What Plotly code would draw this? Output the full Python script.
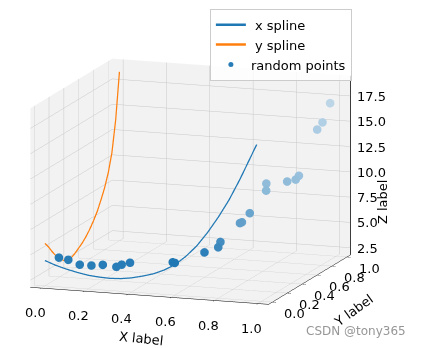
import plotly.graph_objects as go

# ---- data ----
spline_x = [0.00, 0.05, 0.10, 0.15, 0.20, 0.25, 0.30, 0.35, 0.40, 0.45, 0.50,
            0.55, 0.60, 0.65, 0.70, 0.75, 0.80, 0.85, 0.90, 0.95, 1.00]
x_spline_z = [4.3, 3.9, 3.6, 3.35, 3.15, 3.05, 3.0, 3.05, 3.2, 3.45, 3.75,
              4.2, 4.8, 5.7, 6.8, 8.2, 9.8, 11.6, 13.7, 16.0, 18.3]

spline_y = [0.00, 0.05, 0.10, 0.15, 0.20, 0.25, 0.30, 0.35, 0.40, 0.45, 0.50,
            0.55, 0.60, 0.65, 0.70, 0.75, 0.80, 0.85, 0.90, 0.95, 1.00]
y_spline_z = [6.0, 5.4, 4.7, 4.1, 3.6, 3.2, 3.0, 3.0, 3.2, 3.5, 3.8,
              4.2, 4.7, 5.3, 6.0, 6.9, 7.9, 9.2, 11.0, 14.0, 18.5]

pts_x = [0.057, 0.097, 0.143, 0.19, 0.239, 0.295, 0.316, 0.351, 0.538, 0.544,
         0.65, 0.686, 0.686, 0.728, 0.73, 0.756, 0.78, 0.774, 0.86, 0.889,
         0.897, 0.947, 0.961, 0.979]
pts_y = [0.02, 0.03, 0.05, 0.07, 0.08, 0.10, 0.11, 0.12, 0.15, 0.16,
         0.25, 0.33, 0.36, 0.50, 0.52, 0.55, 0.70, 0.72, 0.75, 0.78,
         0.80, 0.90, 0.93, 0.98]
pts_z = [4.6, 4.4, 3.9, 3.8, 3.9, 3.7, 3.9, 4.1, 4.3, 4.2,
         5.0, 5.2, 5.6, 6.9, 6.9, 7.7, 9.3, 9.9, 10.1, 10.2,
         10.5, 14.7, 15.3, 17.0]

x_ticks = [0.0, 0.2, 0.4, 0.6, 0.8, 1.0]
y_ticks = [0.0, 0.2, 0.4, 0.6, 0.8, 1.0]
z_ticks = [2.5, 5.0, 7.5, 10.0, 12.5, 15.0, 17.5]

X_RANGE = [-0.05, 1.05]
Y_RANGE = [-0.05, 1.05]
Z_RANGE = [1.8, 19.5]

BLUE = (31, 119, 180)
ORANGE = "#ff7f0e"
FONT = "DejaVu Sans"

# depth shading like matplotlib (nearer = darker)
depth = [0.94 * yy - 0.34 * xx for xx, yy in zip(pts_x, pts_y)]
dmin, dmax = min(depth), max(depth)
colors = []
for d in depth:
    a = 1 - 0.7 * (d - dmin) / (dmax - dmin)
    r, g, b = [round(255 * (1 - a) + c * a) for c in BLUE]
    colors.append(f"rgb({r},{g},{b})")

fig = go.Figure()
fig.add_trace(go.Scatter3d(
    x=spline_x, y=[0.0] * len(spline_x), z=x_spline_z, mode="lines",
    name=" x spline", line=dict(color="#1f77b4", width=2.5)))
fig.add_trace(go.Scatter3d(
    x=[0.0] * len(spline_y), y=spline_y, z=y_spline_z, mode="lines",
    name=" y spline", line=dict(color=ORANGE, width=2.5)))
fig.add_trace(go.Scatter3d(
    x=pts_x, y=pts_y, z=pts_z, mode="markers", name="random points",
    marker=dict(size=5, color=colors, line=dict(width=0))))
# z axis line on the right back edge (matplotlib style)
fig.add_trace(go.Scatter3d(
    x=[X_RANGE[1], X_RANGE[1]], y=[Y_RANGE[1], Y_RANGE[1]], z=Z_RANGE,
    mode="lines", line=dict(color="black", width=1.5), showlegend=False,
    hoverinfo="skip"))

axis_common = dict(
    showbackground=True, backgroundcolor="rgb(242,242,242)",
    gridcolor="rgb(200,200,200)", gridwidth=1,
    showline=True, linecolor="black", linewidth=1,
    zeroline=False, showspikes=False, ticks="outside", ticklen=4,
    tickcolor="black", showticklabels=False, title=dict(text=""),
)

tick_font = dict(family=FONT, size=13, color="black")
label_font = dict(family=FONT, size=13, color="black")
ann = []
for t in x_ticks:
    ann.append(dict(x=t, y=Y_RANGE[0], z=Z_RANGE[0], text=f"{t:.1f}",
                    showarrow=False, xanchor="center", yanchor="middle",
                    yshift=-24, xshift=-6, font=tick_font))
for t in y_ticks:
    ann.append(dict(x=X_RANGE[1], y=t, z=Z_RANGE[0], text=f"{t:.1f}",
                    showarrow=False, xanchor="left", yanchor="middle",
                    xshift=10, yshift=-11, font=tick_font))
for t in z_ticks:
    ann.append(dict(x=X_RANGE[1], y=Y_RANGE[1], z=t, text=f"{t:.1f}",
                    showarrow=False, xanchor="left", yanchor="middle",
                    xshift=5, font=tick_font))
ann.append(dict(x=0.5, y=Y_RANGE[0], z=Z_RANGE[0], text="X label",
                showarrow=False, xanchor="center", yanchor="middle",
                yshift=-42, xshift=-8, textangle=6, font=label_font))
ann.append(dict(x=X_RANGE[1], y=0.5, z=Z_RANGE[0], text="Y label",
                showarrow=False, xanchor="center", yanchor="middle",
                xshift=44, yshift=-30, textangle=-36, font=label_font))
ann.append(dict(x=X_RANGE[1], y=Y_RANGE[1], z=(Z_RANGE[0] + Z_RANGE[1]) / 2,
                text="Z label", showarrow=False, xanchor="center",
                yanchor="middle", xshift=32, yshift=-36, textangle=-90,
                font=label_font))

fig.update_layout(
    width=424, height=348,
    margin=dict(l=0, r=0, t=0, b=0),
    paper_bgcolor="white",
    font=dict(family=FONT, size=12, color="black"),
    showlegend=True,
    legend=dict(x=0.495, y=0.975, xanchor="left", yanchor="top",
                bordercolor="rgb(204,204,204)", borderwidth=1,
                bgcolor="rgba(255,255,255,0.8)",
                font=dict(family=FONT, size=13)),
    scene=dict(
        domain=dict(x=[0.019, 0.879], y=[0.027, 0.927]),
        xaxis=dict(axis_common, range=X_RANGE, tickvals=x_ticks),
        yaxis=dict(axis_common, range=Y_RANGE, tickvals=y_ticks),
        zaxis=dict(axis_common, range=Z_RANGE, tickvals=z_ticks,
                   showline=False, ticks=""),
        aspectmode="manual", aspectratio=dict(x=1.61, y=1.61, z=1.17),
        camera=dict(eye=dict(x=0.318, y=-0.925, z=0.208),
                    center=dict(x=0, y=0, z=0),
                    projection=dict(type="orthographic")),
        annotations=ann,
    ),
    annotations=[dict(text="CSDN @tony365", x=0.963, y=0.048, xref="paper",
                      yref="paper", xanchor="right", yanchor="middle",
                      showarrow=False,
                      font=dict(family=FONT, size=12,
                                color="rgb(150,150,150)"))],
)

fig.write_html("out.html")
